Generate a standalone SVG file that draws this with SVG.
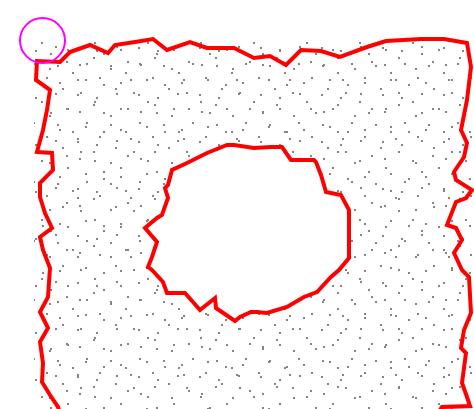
<svg xmlns="http://www.w3.org/2000/svg" width="474" height="409" viewBox="0 0 474 409">
<style>
.edge{fill:none;stroke:#ff0000;stroke-width:4;stroke-linejoin:miter;stroke-miterlimit:3}
.dot{fill:#858585}
</style>
<defs>
<pattern id="pa" patternUnits="userSpaceOnUse" x="0" y="0" width="53" height="59">
<rect class="dot" x="4" y="6" width="2" height="2"/><rect class="dot" x="19" y="13" width="2" height="2"/><rect class="dot" x="33" y="4" width="2" height="2"/><rect class="dot" x="46" y="18" width="2" height="2"/><rect class="dot" x="9" y="29" width="2" height="2"/><rect class="dot" x="27" y="33" width="2" height="2"/><rect class="dot" x="41" y="42" width="2" height="2"/><rect class="dot" x="14" y="49" width="2" height="2"/><rect class="dot" x="50" y="53" width="2" height="2"/><rect class="dot" x="24" y="20" width="2" height="2"/>
</pattern>
<pattern id="pb" patternUnits="userSpaceOnUse" x="11" y="7" width="61" height="47">
<rect class="dot" x="7" y="10" width="2" height="2"/><rect class="dot" x="21" y="3" width="2" height="2"/><rect class="dot" x="38" y="14" width="2" height="2"/><rect class="dot" x="55" y="7" width="2" height="2"/><rect class="dot" x="13" y="25" width="2" height="2"/><rect class="dot" x="31" y="30" width="2" height="2"/><rect class="dot" x="48" y="28" width="2" height="2"/><rect class="dot" x="5" y="40" width="2" height="2"/><rect class="dot" x="24" y="43" width="2" height="2"/><rect class="dot" x="44" y="39" width="2" height="2"/>
</pattern>
<path id="hole" d="M234,145 L254,148 L271,147 L282,147 L291,160 L314,160 L316,162 L321,175 L326,192 L341,195 L349,210 L349,258 L339,270 L331,277 L317,292 L304,297 L287,307 L267,313 L257,312 L251,312 L240,317 L235,321 L216,308 L215,298 L200,310 L185,293 L167,293 L163,282 L152,270 L148,267 L152,257 L157,242 L145,228 L157,218 L162,215 L168,198 L165,188 L168,185 L172,170 L187,163 L207,153 L227,145 Z"/>
<mask id="m" maskUnits="userSpaceOnUse" x="0" y="0" width="474" height="409">
<rect x="34" y="40" width="440" height="369" fill="#fff"/>
<use href="#hole" fill="#000"/>
</mask>
</defs>
<g id="dots" mask="url(#m)">
<rect x="0" y="0" width="474" height="409" fill="url(#pa)"/>
<rect x="0" y="0" width="474" height="409" fill="url(#pb)"/>
</g>
<g id="outline">
<path class="edge" d="M60,413 L58,407 L50,395 L42,382 L43,363 L40,342 L48,328 L40,312 L48,297 L50,268 L43,250 L40,237 L52,228 L45,213 L40,197 L40,183 L53,170 L52,153 L37,152 L43,130 L47,110 L50,90 L36,80 L37,61 L60,62 L70,52 L90,45 L108,53 L115,45 L135,42 L153,39 L167,50 L190,42 L207,48 L234,48 L254,58 L270,56 L286,65 L301,50 L321,51 L340,57 L367,47 L386,41 L421,39 L444,39 L467,43 L471,67 L467,100 L461,130 L467,143 L464,157 L454,172 L456,180 L472,190 L466,198 L456,202 L447,225 L456,228 L462,240 L454,253 L462,270 L469,277 L471,313 L464,330 L461,348 L466,353 L462,383 L467,397 L470,406 L442,407 L438,413"/>
<use href="#hole" class="edge"/>
</g>
<g id="marker">
<circle cx="42.5" cy="40.5" r="22.5" fill="none" stroke="#ff00ff" stroke-width="2"/>
</g>
</svg>
